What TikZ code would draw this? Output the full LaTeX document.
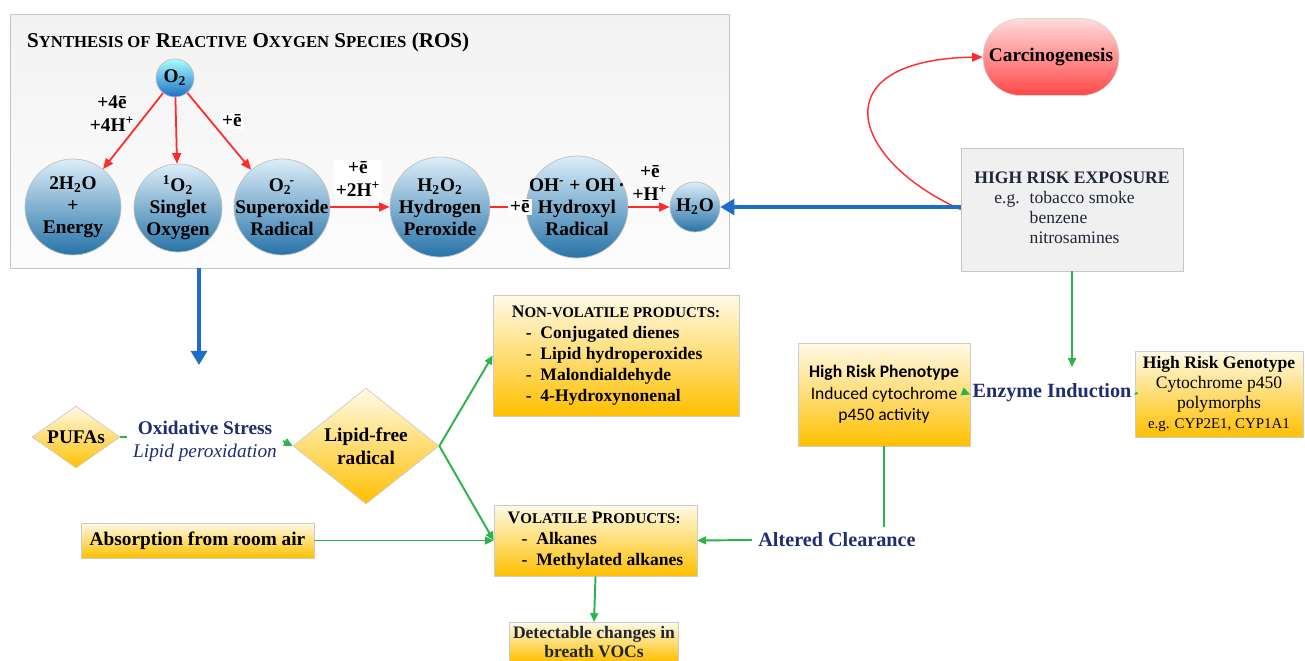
\documentclass[tikz,border=0pt]{standalone}
\usepackage{fontspec}
\setmainfont{Liberation Serif}
\newfontfamily\carlito{Carlito}
\usetikzlibrary{shapes.geometric,arrows.meta}
\definecolor{rosred}{HTML}{FF2A2A}
\definecolor{flowgreen}{HTML}{2DB34A}
\definecolor{flowblue}{HTML}{1C6FC4}
\definecolor{navy}{HTML}{1F2E72}
\definecolor{slate}{HTML}{1E2636}
\definecolor{ballTop}{HTML}{DDEEF9}
\definecolor{ballBot}{HTML}{2673A8}
\definecolor{boxTop}{HTML}{FFFAE8}
\definecolor{boxBot}{HTML}{FFC000}
\newcommand\smc[2][8.5]{{\fontsize{#1}{10}\selectfont #2}}
\begin{document}
\begin{tikzpicture}[x=0.02cm,y=-0.02cm,
  bubble/.style={circle,draw=gray!50,top color=ballTop,bottom color=ballBot,inner sep=-6pt,align=center,font=\fontsize{11}{12.5}\selectfont\bfseries},
  ybox/.style={rectangle,draw=gray!40,top color=boxTop,bottom color=boxBot,inner sep=2pt,align=center},
  ydiam/.style={diamond,draw=gray!40,top color=boxTop,bottom color=boxBot,inner sep=0pt,align=center,font=\fontsize{11}{13}\selectfont\bfseries},
  rarr/.style={rosred,line width=1pt,-{Triangle[length=6pt,width=5pt]}},
  garr/.style={flowgreen,line width=1.1pt,-{Triangle[length=5pt,width=4.5pt]}},
  gline/.style={flowgreen,line width=1.1pt},
  barr/.style={flowblue,line width=2.4pt,-{Triangle[length=8pt,width=9pt]}},
  elbl/.style={fill=white,inner sep=1pt,align=center,font=\fontsize{11}{13}\selectfont\bfseries},
  navylbl/.style={text=navy,align=center,font=\fontsize{11.5}{13}\selectfont\bfseries}]

\useasboundingbox (0,0) rectangle (1305,661);

% ROS panel
\node[draw=gray!45,top color=gray!10,bottom color=gray!2,minimum width=14.38cm,minimum height=5.08cm] (ros) at (369.5,141) {};
\node[anchor=west,font=\fontsize{12}{14}\selectfont\bfseries] (title) at (21,42) {S\smc[9.5]{YNTHESIS OF} R\smc[9.5]{EACTIVE} O\smc[9.5]{XYGEN} S\smc[9.5]{PECIES} (ROS)};

\node[bubble,minimum size=0.76cm,top color=cyan!35,bottom color=flowblue] (o2) at (175,78) {O\textsubscript{2}};
\node[bubble,minimum size=1.92cm] (w2) at (73,207) {2H\textsubscript{2}O\\+\\Energy};
\node[bubble,minimum size=1.76cm] (s1) at (178,208) {\textsuperscript{1}O\textsubscript{2}\\Singlet\\Oxygen};
\node[bubble,minimum size=1.92cm] (sup) at (282,207) {O\textsubscript{2}\kern-0.1em\textsuperscript{-}\\Superoxide\\Radical};
\node[bubble,minimum size=2cm] (hp) at (440,207) {H\textsubscript{2}O\textsubscript{2}\\Hydrogen\\Peroxide};
\node[bubble,minimum size=2.04cm] (oh) at (577,207) {OH\textsuperscript{-} + OH\,·\\Hydroxyl\\Radical};
\node[bubble,minimum size=1cm] (h2o) at (695,207) {H\textsubscript{2}O};

\draw[rarr] (o2) -- (w2);
\draw[rarr] (o2) -- (s1);
\draw[rarr] (o2) -- (sup);
\draw[rarr] (sup) -- (hp);
\draw[rarr] (hp) -- (oh);
\draw[rarr] (oh) -- (h2o);
\node[elbl,fill=none] (e1) at (112,114) {+4ē\\+4H\textsuperscript{+}};
\node[elbl] (e2) at (232,121) {+ē};
\node[elbl] (e3) at (520,207) {+ē};
\node[elbl] (e4) at (358,179) {+ē\\+2H\textsuperscript{+}};
\node[elbl,fill=none] (e5) at (650,183) {+ē\\+H\textsuperscript{+}};

% exposure side
\node[draw=gray!30,rounded corners=0.75cm,top color=red!14,bottom color=red!72,minimum width=2.54cm,minimum height=1.54cm,font=\fontsize{11}{13}\selectfont\bfseries] (carc) at (1051,57) {Carcinogenesis};
\node[draw=gray!45,fill=gray!12,minimum width=4.44cm,minimum height=2.46cm,text=slate,font=\fontsize{10}{11.5}\selectfont] (expo) at (1072,209.5) {\begin{tabular}{@{\hspace{0.4cm}}l@{\hspace{0.2cm}}l@{}}\multicolumn{2}{@{}c@{}}{\bfseries HIGH RISK EXPOSURE}\\ e.g. & tobacco smoke\\ & benzene\\ & nitrosamines\end{tabular}};
\draw[rarr,line width=0.8pt] (expo.west) .. controls (850,160) and (820,60) .. (carc.west);
\draw[barr] (expo.west |- h2o.east) -- (h2o.east);

\node[navylbl] (enz) at (1052,393) {Enzyme Induction};
\coordinate (enztop) at (1072,367);
\draw[garr] (expo.south) -- (enztop);
\node[ybox,minimum width=3.36cm,minimum height=1.72cm,font=\fontsize{10}{11.5}\selectfont] (geno) at (1219,394) {\textbf{High Risk Genotype}\\Cytochrome p450\\polymorphs\\{\fontsize{8.5}{10}\selectfont e.g. CYP2E1, CYP1A1}};
\node[ybox,minimum width=3.44cm,minimum height=2.06cm,font=\carlito\fontsize{10}{12.2}\selectfont] (pheno) at (884,394.5) {\textbf{High Risk Phenotype}\\Induced cytochrome\\p450 activity};
\draw[gline] (geno.west) -- (enz.east);
\draw[garr] (enz.west) -- (pheno.east);

% lipid chain
\coordinate (rosdown) at (199,365);
\draw[barr] (ros.south -| rosdown) -- (rosdown);
\node[ydiam,minimum width=1.76cm,minimum height=1.24cm,aspect=1.42] (pufa) at (76,437) {PUFAs};
\node[text=navy,align=center,font=\fontsize{11}{13}\selectfont] (ox) at (205,441) {\textbf{Oxidative Stress}\\\textit{Lipid peroxidation}};
\node[ydiam,minimum width=2.92cm,minimum height=2.32cm,aspect=1.26] (lipid) at (366,446) {Lipid-free\\radical};
\draw[gline] (pufa.east) -- (pufa.east -| ox.west);
\draw[garr] (ox.east) -- (lipid.west);

\node[ybox,minimum width=4.92cm,minimum height=2.42cm,align=left,font=\fontsize{10}{12}\selectfont\bfseries] (nonvol) at (616,355.5) {N\smc[8.5]{ON-VOLATILE PRODUCTS:}\\ \hspace*{0.28cm}-\ \ Conjugated dienes\\ \hspace*{0.28cm}-\ \ Lipid hydroperoxides\\ \hspace*{0.28cm}-\ \ Malondialdehyde\\ \hspace*{0.28cm}-\ \ 4-Hydroxynonenal};
\node[ybox,minimum width=4.06cm,minimum height=1.42cm,align=left,font=\fontsize{10}{12}\selectfont\bfseries] (vol) at (595.5,540.5) {V\smc[8.5]{OLATILE} P\smc[8.5]{RODUCTS:}\\ \hspace*{0.28cm}-\ \ Alkanes\\ \hspace*{0.28cm}-\ \ Methylated alkanes};
\node[ybox,minimum width=4.66cm,minimum height=0.7cm,font=\fontsize{11}{13}\selectfont\bfseries] (air) at (197.5,540.5) {Absorption from room air};
\node[ybox,minimum width=3.32cm,minimum height=0.76cm,text=slate,font=\fontsize{10}{11.3}\selectfont\bfseries] (det) at (594,642) {Detectable changes in\\breath VOCs};
\node[navylbl] (clear) at (837,540) {Altered Clearance};

\draw[garr] (lipid.east) -- (nonvol.west);
\draw[garr] (lipid.east) -- (vol.west);
\draw[garr] (air.east) -- (vol.west);
\draw[gline] (pheno.south) -- (pheno.south |- clear.north);
\draw[garr] (clear.west) -- (vol.east);
\draw[garr] (vol.south) -- (det.north);

\end{tikzpicture}
\end{document}
